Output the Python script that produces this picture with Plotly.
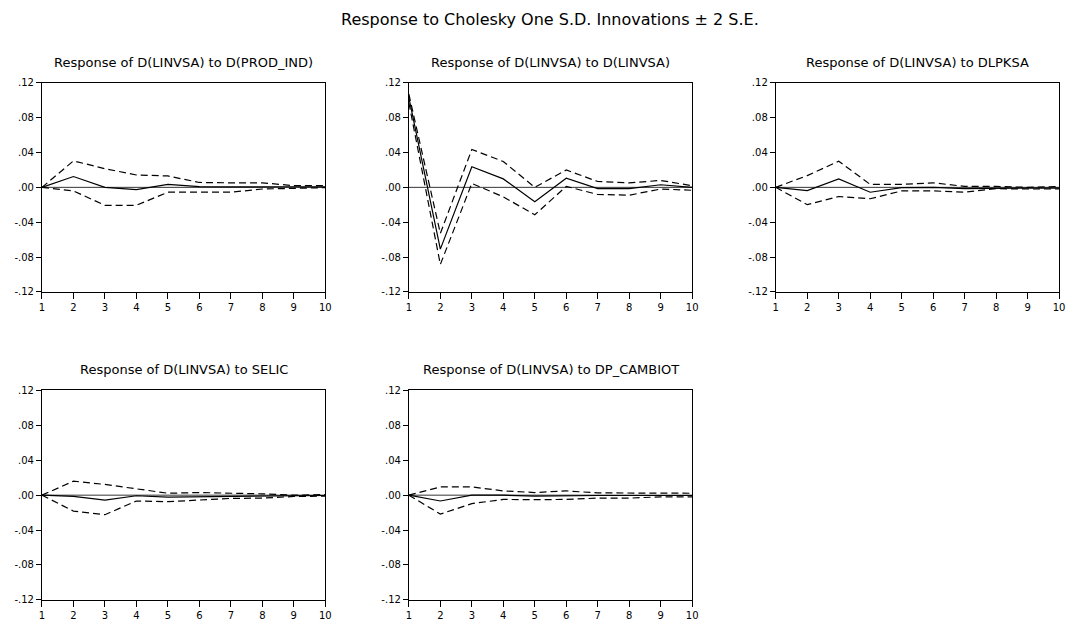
import plotly.graph_objects as go

periods = [1, 2, 3, 4, 5, 6, 7, 8, 9, 10]

titles = [
    "Response of D(LINVSA) to D(PROD_IND)",
    "Response of D(LINVSA) to D(LINVSA)",
    "Response of D(LINVSA) to DLPKSA",
    "Response of D(LINVSA) to SELIC",
    "Response of D(LINVSA) to DP_CAMBIOT",
]

resp_prod_ind = [0.0, 0.0124, 0.0, -0.0026, 0.0034, 0.0008, 0.0005, 0.0010, 0.0007, 0.0005]
upper_prod_ind = [0.0, 0.0304, 0.0214, 0.0142, 0.0131, 0.0056, 0.0052, 0.0052, 0.0019, 0.0019]
lower_prod_ind = [0.0, -0.0041, -0.0206, -0.0206, -0.0056, -0.0056, -0.0056, -0.0019, -0.0008, -0.0004]

resp_linvsa = [0.103, -0.0709, 0.0236, 0.0097, -0.0165, 0.0105, -0.0015, -0.0015, 0.0030, 0.0]
upper_linvsa = [0.107, -0.0529, 0.0435, 0.0296, 0.0, 0.0199, 0.0067, 0.0052, 0.0079, 0.0019]
lower_linvsa = [0.097, -0.0885, 0.0045, -0.0109, -0.0315, 0.0011, -0.0082, -0.0090, -0.0019, -0.0034]

resp_dlpksa = [0.0, -0.0037, 0.0097, -0.0056, -0.0004, 0.0, -0.0015, -0.0008, -0.0008, -0.0008]
upper_dlpksa = [0.0, 0.0135, 0.0300, 0.0034, 0.0034, 0.0052, 0.0011, 0.0011, 0.0, 0.0008]
lower_dlpksa = [0.0, -0.0199, -0.0105, -0.0131, -0.0041, -0.0041, -0.0056, -0.0015, -0.0019, -0.0019]

resp_selic = [0.0, -0.0015, -0.0056, -0.0007, -0.0022, -0.0019, -0.0011, -0.0015, -0.0011, -0.0004]
upper_selic = [0.0, 0.0160, 0.0123, 0.0071, 0.0022, 0.0030, 0.0026, 0.0015, 0.0, 0.0007]
lower_selic = [0.0, -0.0183, -0.0224, -0.0067, -0.0075, -0.0060, -0.0037, -0.0034, -0.0015, -0.0011]

resp_cambiot = [0.0, -0.0067, 0.0, 0.0, -0.0011, -0.0004, -0.0004, -0.0004, -0.0004, -0.0004]
upper_cambiot = [0.0, 0.0094, 0.0094, 0.0049, 0.0030, 0.0049, 0.0026, 0.0026, 0.0022, 0.0022]
lower_cambiot = [0.0, -0.0217, -0.0097, -0.0049, -0.0052, -0.0049, -0.0034, -0.0034, -0.0019, -0.0019]

ytick_vals = [-0.12, -0.08, -0.04, 0.0, 0.04, 0.08, 0.12]
ytick_text = ["-.12", "-.08", "-.04", ".00", ".04", ".08", ".12"]

series = [
    (resp_prod_ind, upper_prod_ind, lower_prod_ind),
    (resp_linvsa, upper_linvsa, lower_linvsa),
    (resp_dlpksa, upper_dlpksa, lower_dlpksa),
    (resp_selic, upper_selic, lower_selic),
    (resp_cambiot, upper_cambiot, lower_cambiot),
]

W, H = 1073, 624
# pixel boxes (left, right, top, bottom)
boxes = [
    (39.3, 325.0, 78.3, 291.5),
    (409.3, 695.0, 78.3, 291.5),
    (779.3, 1065.0, 78.3, 291.5),
    (39.3, 325.0, 392.0, 605.5),
    (409.3, 695.0, 392.0, 605.5),
]

fig = go.Figure()
font_family = "DejaVu Sans, Verdana, sans-serif"

for i, ((resp, up, lo), (l, r, t, b)) in enumerate(zip(series, boxes)):
    n = i + 1
    xa = "x" if n == 1 else f"x{n}"
    ya = "y" if n == 1 else f"y{n}"
    fig.add_trace(go.Scatter(x=periods, y=[0.0] * len(periods), mode="lines",
                             line=dict(color="black", width=0.8),
                             xaxis=xa, yaxis=ya, showlegend=False, hoverinfo="skip"))
    fig.add_trace(go.Scatter(x=periods, y=up, mode="lines",
                             line=dict(color="black", width=1.2, dash="7px,4px"),
                             xaxis=xa, yaxis=ya, showlegend=False))
    fig.add_trace(go.Scatter(x=periods, y=lo, mode="lines",
                             line=dict(color="black", width=1.2, dash="7px,4px"),
                             xaxis=xa, yaxis=ya, showlegend=False))
    fig.add_trace(go.Scatter(x=periods, y=resp, mode="lines",
                             line=dict(color="black", width=1.2),
                             xaxis=xa, yaxis=ya, showlegend=False))
    xkey = "xaxis" if n == 1 else f"xaxis{n}"
    ykey = "yaxis" if n == 1 else f"yaxis{n}"
    fig.layout[xkey] = dict(
        domain=[l / W, r / W], anchor=ya, range=[1, 10],
        tickvals=periods, ticks="outside", ticklen=6, tickcolor="black",
        showline=True, linecolor="black", linewidth=1, mirror=True,
        showgrid=False, zeroline=False,
        tickfont=dict(size=10, color="black", family=font_family),
    )
    fig.layout[ykey] = dict(
        domain=[1 - b / H, 1 - t / H], anchor=xa, range=[-0.12, 0.12],
        tickvals=ytick_vals, ticktext=ytick_text, ticks="outside", ticklen=5,
        tickcolor="black", showline=True, linecolor="black", linewidth=1,
        mirror=True, showgrid=False, zeroline=False,
        tickfont=dict(size=10, color="black", family=font_family),
    )
    fig.add_annotation(text=titles[i], x=(l + r) / 2 / W, y=1 - (t - 21) / H,
                       xref="paper", yref="paper", showarrow=False,
                       xanchor="center", yanchor="middle",
                       font=dict(size=13, color="black", family=font_family))

fig.add_annotation(text="Response to Cholesky One S.D. Innovations \u00b1 2 S.E.",
                   x=551.7 / W, y=1 - 14 / H, xref="paper", yref="paper",
                   showarrow=False, xanchor="center", yanchor="middle",
                   font=dict(size=16, color="black", family=font_family))

fig.update_layout(width=W, height=H, margin=dict(l=0, r=0, t=0, b=0),
                  paper_bgcolor="white", plot_bgcolor="white")

fig.write_html("out.html")
